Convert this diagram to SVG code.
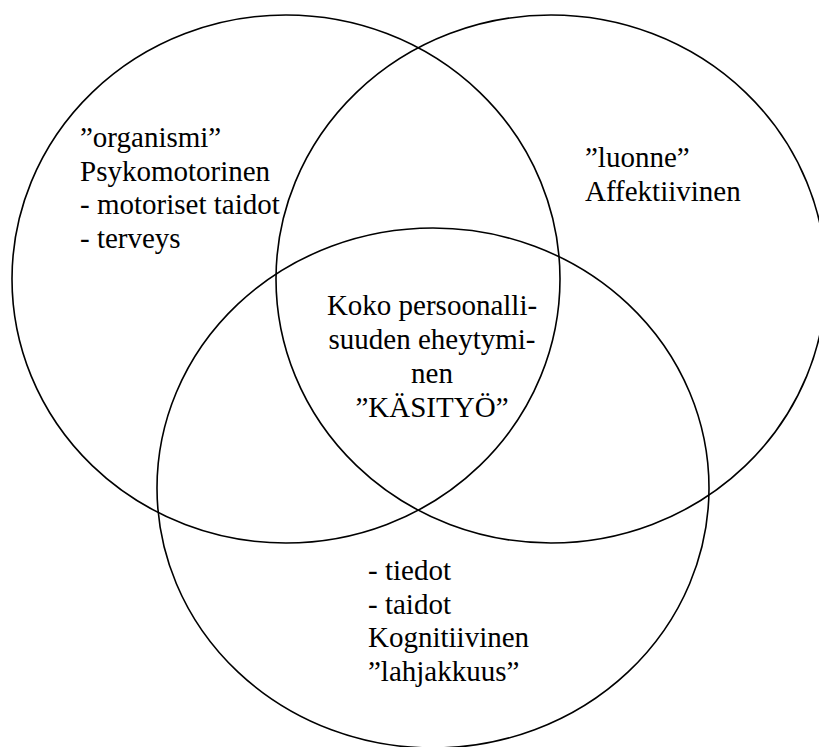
<svg xmlns="http://www.w3.org/2000/svg" width="819" height="747" viewBox="0 0 819 747">
<style>
  .c { fill: none; stroke: #000; stroke-width: 1.6; }
  text { font-family: "Liberation Serif", Tinos, "Times New Roman", Times, "Nimbus Roman", "Noto Serif", "DejaVu Serif", serif; font-size: 29px; fill: #000; }
  .m { text-anchor: middle; }
</style>
<rect x="0" y="0" width="819" height="747" fill="#fff"/>
<g id="psykomotorinen" font-family="Liberation Serif, serif">
  <ellipse class="c" cx="286" cy="279" rx="274" ry="264"/>
  <text x="80" y="147">”organismi”</text>
  <text x="80" y="180.5">Psykomotorinen</text>
  <text x="80" y="214">- motoriset taidot</text>
  <text x="80" y="247.5">- terveys</text>
</g>
<g id="affektiivinen">
  <ellipse class="c" cx="551" cy="279" rx="275" ry="264"/>
  <text x="585" y="167">”luonne”</text>
  <text x="585" y="200.5">Affektiivinen</text>
</g>
<g id="kognitiivinen">
  <ellipse class="c" cx="433" cy="488" rx="276" ry="260"/>
  <text x="368" y="580">- tiedot</text>
  <text x="368" y="613.5">- taidot</text>
  <text x="368" y="647">Kognitiivinen</text>
  <text x="368" y="680.5">”lahjakkuus”</text>
</g>
<g id="kasityo">
  <text class="m" x="432" y="315">Koko persoonalli-</text>
  <text class="m" x="432" y="349">suuden eheytymi-</text>
  <text class="m" x="432" y="382.5">nen</text>
  <text class="m" x="432" y="416.5">”KÄSITYÖ”</text>
</g>
<g id="connectors"></g>
</svg>
